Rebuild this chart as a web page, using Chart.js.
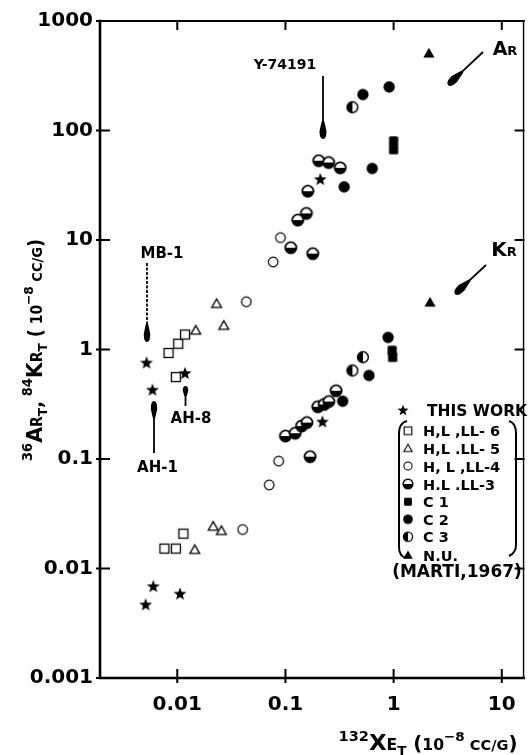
<!DOCTYPE html>
<html>
<head>
<meta charset="utf-8">
<script src="https://cdn.jsdelivr.net/npm/chart.js@4.4.1/dist/chart.umd.min.js"></script>
<style>
  html, body { margin: 0; padding: 0; background: #fff; }
  canvas { display: block; }
</style>
</head>
<body>
<canvas id="graphique" width="531" height="755"></canvas>
<script>
// --- données ---
const seriesLabels = ['THIS WORK', 'H,L ,LL- 6', 'H,L .LL- 5', 'H, L ,LL-4', 'H.L .LL-3', 'C 1', 'C 2', 'C 3', 'N.U.'];

const thisWorkX = [0.0052, 0.0059, 0.0118, 0.21, 0.0060, 0.0106, 0.0051, 0.22];
const thisWorkY = [0.76, 0.43, 0.61, 36, 0.0069, 0.0059, 0.0047, 0.22];

const ll6X = [0.0083, 0.0102, 0.0118, 0.0097, 0.0076, 0.0097, 0.0114];
const ll6Y = [0.93, 1.13, 1.37, 0.56, 0.0152, 0.0152, 0.0208];

const ll5X = [0.0148, 0.0231, 0.0269, 0.0145, 0.0215, 0.0256];
const ll5Y = [1.50, 2.63, 1.66, 0.0149, 0.0243, 0.0222];

const ll4X = [0.0435, 0.077, 0.090, 0.0402, 0.0708, 0.0865];
const ll4Y = [2.73, 6.3, 10.5, 0.0227, 0.058, 0.0957];

const ll3X = [0.203, 0.251, 0.321, 0.161, 0.156, 0.130, 0.112, 0.179, 0.10, 0.123, 0.141, 0.158, 0.199, 0.228, 0.252, 0.294, 0.169];
const ll3Y = [53, 51, 45.6, 27.9, 17.5, 15.2, 8.5, 7.5, 0.162, 0.172, 0.20, 0.215, 0.30, 0.315, 0.335, 0.42, 0.105];

const c1X = [1.0, 1.0, 0.97, 0.98];
const c1Y = [80, 67, 0.98, 0.85];

const c2X = [0.52, 0.91, 0.634, 0.349, 0.889, 0.592, 0.338];
const c2Y = [213, 250, 45, 30.6, 1.29, 0.579, 0.337];

const c3X = [0.416, 0.52, 0.416];
const c3Y = [163, 0.85, 0.643];

const nuX = [2.12, 2.17];
const nuY = [510, 2.71];

const xTickValues = [0.01, 0.1, 1, 10];
const xTickLabels = ['0.01', '0.1', '1', '10'];
const yTickValues = [0.001, 0.01, 0.1, 1, 10, 100, 1000];
const yTickLabels = ['0.001', '0.01', '0.1', '1', '10', '100', '1000'];

const X_MIN = 0.00193, X_MAX = 15.9;
const Y_MIN = 0.001, Y_MAX = 1000;

const FONT = '"DejaVu Sans"';

// --- symboles ---
function fabriqueSymbole(type, k) {
  const S = Math.ceil(16 * k);
  const c = document.createElement('canvas');
  c.width = S; c.height = S;
  const g = c.getContext('2d');
  g.translate(S / 2, S / 2);
  g.scale(k, k);
  g.fillStyle = '#000';
  g.strokeStyle = '#000';
  if (type === 'star') {
    g.beginPath();
    for (let i = 0; i < 10; i++) {
      const r = i % 2 === 0 ? 6.8 : 2.8;
      const a = -Math.PI / 2 + i * Math.PI / 5;
      g.lineTo(r * Math.cos(a), r * Math.sin(a) + 0.6);
    }
    g.closePath();
    g.fill();
  } else if (type === 'openSquare') {
    g.lineWidth = 1.3;
    g.fillStyle = '#fff';
    g.fillRect(-4.5, -4.5, 9, 9);
    g.strokeRect(-4.5, -4.5, 9, 9);
  } else if (type === 'openTriangle') {
    g.lineWidth = 1.3;
    g.fillStyle = '#fff';
    g.beginPath();
    g.moveTo(0, -4.6); g.lineTo(4.9, 3.9); g.lineTo(-4.9, 3.9); g.closePath();
    g.fill(); g.stroke();
  } else if (type === 'openCircle') {
    g.lineWidth = 1.2;
    g.fillStyle = '#fff';
    g.beginPath(); g.arc(0, 0, 4.8, 0, Math.PI * 2);
    g.fill(); g.stroke();
  } else if (type === 'halfCircle') {
    g.fillStyle = '#fff';
    g.beginPath(); g.arc(0, 0, 5.6, 0, Math.PI * 2); g.fill();
    g.fillStyle = '#000';
    g.beginPath(); g.arc(0, 0, 5.6, 0, Math.PI); g.closePath(); g.fill();
    g.lineWidth = 1.8;
    g.beginPath(); g.arc(0, 0, 5.6, 0, Math.PI * 2); g.stroke();
  } else if (type === 'filledSquare') {
    g.beginPath();
    g.roundRect(-4.6, -4.8, 9.2, 9.6, 1.5);
    g.fill();
  } else if (type === 'filledCircle') {
    g.beginPath(); g.arc(0, 0, 5.7, 0, Math.PI * 2); g.fill();
  } else if (type === 'vhalfCircle') {
    g.fillStyle = '#fff';
    g.beginPath(); g.arc(0, 0, 5.4, 0, Math.PI * 2); g.fill();
    g.fillStyle = '#000';
    g.beginPath(); g.arc(0, 0, 5.4, Math.PI / 2, Math.PI * 1.5); g.closePath(); g.fill();
    g.lineWidth = 1.5;
    g.beginPath(); g.arc(0, 0, 5.4, 0, Math.PI * 2); g.stroke();
  } else if (type === 'filledTriangle') {
    g.beginPath();
    g.moveTo(0, -5.2); g.lineTo(5.6, 4.4); g.lineTo(-5.6, 4.4); g.closePath();
    g.fill();
  }
  return c;
}

const typesSymboles = ['star', 'openSquare', 'openTriangle', 'openCircle', 'halfCircle', 'filledSquare', 'filledCircle', 'vhalfCircle', 'filledTriangle'];
const symbolesLegende = typesSymboles.map(t => fabriqueSymbole(t, 0.85));

const series = [
  [thisWorkX, thisWorkY], [ll6X, ll6Y], [ll5X, ll5Y], [ll4X, ll4Y], [ll3X, ll3Y],
  [c1X, c1Y], [c2X, c2Y], [c3X, c3Y], [nuX, nuY]
];

// ordre de dessin : les symboles ouverts d'abord, les pleins ensuite
const ordre = [3, 1, 2, 4, 7, 6, 5, 8, 0];
const datasets = ordre.map(i => ({
  label: seriesLabels[i],
  data: series[i][0].map((x, j) => ({ x: x, y: series[i][1][j] })),
  pointStyle: fabriqueSymbole(typesSymboles[i], 1),
  pointRadius: 5
}));

// --- texte avec indices / exposants ---
function texteRiche(ctx, parts, x, y, largeur) {
  let total = 0;
  parts.forEach(p => {
    ctx.font = `bold ${p.s}px ${FONT}`;
    p.w = ctx.measureText(p.t).width;
    total += p.w;
  });
  const k = largeur ? largeur / total : 1;
  ctx.save();
  ctx.translate(x, y);
  ctx.scale(k, 1);
  ctx.textAlign = 'left';
  ctx.textBaseline = 'alphabetic';
  let cx = -total / 2;
  parts.forEach(p => {
    ctx.font = `bold ${p.s}px ${FONT}`;
    ctx.fillText(p.t, cx, p.dy || 0);
    cx += p.w;
  });
  ctx.restore();
}

function fleche(ctx, x1, y1, x2, y2, long, larg, pointille) {
  const ang = Math.atan2(y2 - y1, x2 - x1);
  ctx.save();
  ctx.lineWidth = 1.8;
  if (pointille) ctx.setLineDash([3, 1.5]);
  ctx.beginPath();
  ctx.moveTo(x1, y1);
  ctx.lineTo(x2 - (long - 2) * Math.cos(ang), y2 - (long - 2) * Math.sin(ang));
  ctx.stroke();
  ctx.setLineDash([]);
  ctx.translate(x2, y2);
  ctx.rotate(ang);
  const h = larg / 2;
  ctx.beginPath();
  ctx.moveTo(-long, -1.2);
  ctx.lineTo(-long * 0.45, -h);
  ctx.quadraticCurveTo(0, -h, 0, 0);
  ctx.quadraticCurveTo(0, h, -long * 0.45, h);
  ctx.lineTo(-long, 1.2);
  ctx.closePath();
  ctx.fill();
  ctx.restore();
}

function etiquette(ctx, txt, x, y, taille) {
  ctx.font = `bold ${taille}px ${FONT}`;
  ctx.textAlign = 'center';
  ctx.textBaseline = 'alphabetic';
  ctx.fillText(txt, x, y);
}

const cadre = {
  id: 'cadre',
  beforeDatasetsDraw(chart) {
    const { ctx, chartArea: a, scales: { x, y } } = chart;
    ctx.save();
    ctx.strokeStyle = '#000';
    ctx.lineCap = 'square';
    ctx.lineWidth = 2.6;
    ctx.beginPath(); ctx.moveTo(a.left, a.top); ctx.lineTo(a.left, a.bottom); ctx.lineTo(a.right, a.bottom); ctx.stroke();
    ctx.lineWidth = 2;
    ctx.beginPath(); ctx.moveTo(a.left, a.top); ctx.lineTo(a.right, a.top); ctx.stroke();
    ctx.lineWidth = 1.4;
    ctx.beginPath(); ctx.moveTo(a.right, a.top); ctx.lineTo(a.right, a.bottom); ctx.stroke();
    // graduations vers l'intérieur
    ctx.lineWidth = 2;
    x.ticks.forEach(t => {
      const px = x.getPixelForValue(t.value);
      ctx.beginPath(); ctx.moveTo(px, a.bottom + 4); ctx.lineTo(px, a.bottom - 8); ctx.stroke();
      ctx.beginPath(); ctx.moveTo(px, a.top); ctx.lineTo(px, a.top + 8); ctx.stroke();
    });
    y.ticks.forEach(t => {
      const py = y.getPixelForValue(t.value);
      ctx.beginPath(); ctx.moveTo(a.left - 3, py); ctx.lineTo(a.left + 9, py); ctx.stroke();
      ctx.beginPath(); ctx.moveTo(a.right - 8, py); ctx.lineTo(a.right, py); ctx.stroke();
    });
    ctx.restore();
  },
  afterDraw(chart) {
    const { ctx } = chart;
    ctx.save();
    ctx.fillStyle = '#000';
    ctx.strokeStyle = '#000';

    // titres des axes
    texteRiche(ctx, [
      { t: '132', s: 14, dy: -9 }, { t: 'X', s: 22 }, { t: 'E', s: 15 }, { t: 'T', s: 13, dy: 5 },
      { t: ' (', s: 19 }, { t: '10', s: 15 }, { t: '\u22128', s: 13, dy: -9 },
      { t: ' CC/G', s: 14 }, { t: ')', s: 19 }
    ], 428, 750, 179);

    ctx.save();
    ctx.translate(42, 350);
    ctx.rotate(-Math.PI / 2);
    texteRiche(ctx, [
      { t: '36', s: 14, dy: -10 }, { t: 'A', s: 22 }, { t: 'R', s: 15 }, { t: 'T', s: 13, dy: 5 },
      { t: ',', s: 20 }, { t: ' 84', s: 14, dy: -10 }, { t: 'K', s: 22 }, { t: 'R', s: 15 }, { t: 'T', s: 13, dy: 5 },
      { t: ' (', s: 19 }, { t: ' 10', s: 15 }, { t: '\u22128', s: 13, dy: -9 },
      { t: ' CC/G', s: 14 }, { t: ')', s: 19 }
    ], 0, 0, 222);
    ctx.restore();

    // annotations
    etiquette(ctx, 'Y-74191', 285, 69, 14);
    fleche(ctx, 323, 76, 323, 139, 18, 7, false);

    texteRiche(ctx, [{ t: 'A', s: 19 }, { t: 'R', s: 13 }], 505, 55);
    fleche(ctx, 483, 52, 448, 85, 20, 8, false);

    texteRiche(ctx, [{ t: 'K', s: 20 }, { t: 'R', s: 13 }], 504, 256);
    fleche(ctx, 486, 265, 455, 294, 20, 8, false);

    etiquette(ctx, 'MB-1', 162, 258, 15);
    fleche(ctx, 147, 263, 147, 342, 18, 6.5, true);

    etiquette(ctx, 'AH-8', 191, 423, 15);
    fleche(ctx, 185.5, 406, 185.5, 386, 10, 5.5, false);

    etiquette(ctx, 'AH-1', 157.5, 472, 15);
    fleche(ctx, 154, 453, 154, 401, 17, 6.5, false);

    // légende
    const rangs = [410, 430.7, 448.3, 466, 484, 501.7, 519.3, 536.7, 555];
    rangs.forEach((ry, i) => {
      const s = symbolesLegende[i];
      const mx = i === 0 ? 403 : 408;
      ctx.drawImage(s, mx - s.width / 2, ry - s.height / 2);
      ctx.textAlign = 'left';
      ctx.textBaseline = 'alphabetic';
      ctx.font = `bold ${i === 0 ? 15.5 : 14.5}px ${FONT}`;
      ctx.fillText(seriesLabels[i], i === 0 ? 427 : 423, ry + 5.5);
    });
    etiquette(ctx, '(MARTI,1967)', 457, 577, 17);

    // accolades
    ctx.lineWidth = 2;
    ctx.beginPath();
    ctx.moveTo(407, 421);
    ctx.quadraticCurveTo(399, 423, 399, 433);
    ctx.lineTo(399, 547);
    ctx.quadraticCurveTo(399, 556, 406, 558);
    ctx.stroke();
    ctx.beginPath();
    ctx.moveTo(509, 421);
    ctx.quadraticCurveTo(516, 423, 516, 433);
    ctx.lineTo(516, 545);
    ctx.quadraticCurveTo(516, 553, 509, 556);
    ctx.stroke();
    ctx.restore();
  }
};

const ctx = document.getElementById('graphique').getContext('2d');
const graphique = new Chart(ctx, {
  type: 'scatter',
  data: { datasets: datasets },
  options: {
    responsive: false,
    animation: false,
    events: [],
    layout: { padding: { top: 21, right: 3, left: 0, bottom: 0 } },
    plugins: { legend: { display: false }, tooltip: { enabled: false } },
    scales: {
      x: {
        type: 'logarithmic',
        min: X_MIN, max: X_MAX,
        position: 'bottom',
        afterBuildTicks: s => { s.ticks = xTickValues.map(v => ({ value: v })); },
        afterFit: s => { s.height = 77; },
        grid: { display: false, drawTicks: false },
        border: { display: false },
        ticks: {
          padding: 15, color: '#000', autoSkip: false, maxRotation: 0,
          font: { family: FONT, weight: 'bold', size: 20 },
          callback: (v, i) => xTickLabels[i]
        }
      },
      y: {
        type: 'logarithmic',
        min: Y_MIN, max: Y_MAX,
        afterBuildTicks: s => { s.ticks = yTickValues.map(v => ({ value: v })); },
        afterFit: s => { s.width = 100; },
        grid: { display: false, drawTicks: false },
        border: { display: false },
        ticks: {
          padding: 7, color: '#000', autoSkip: false,
          font: { family: FONT, weight: 'bold', size: 20 },
          callback: (v, i) => yTickLabels[i]
        }
      }
    }
  },
  plugins: [cadre]
});
</script>
</body>
</html>
